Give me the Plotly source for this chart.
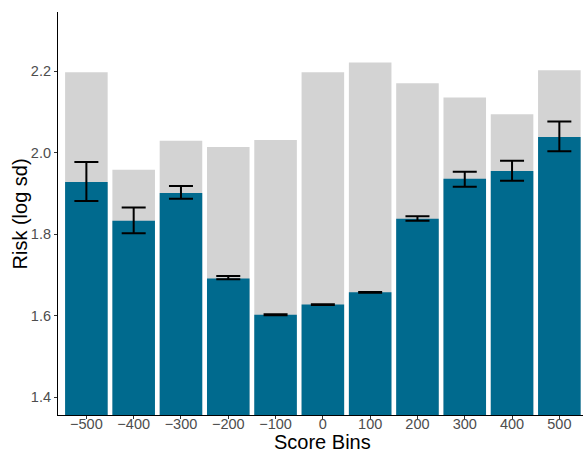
import plotly.graph_objects as go

# Score bins and risk summaries
bins = ["-500", "-400", "-300", "-200", "-100", "0", "100", "200", "300", "400", "500"]
bin_labels = ["\u2212500", "\u2212400", "\u2212300", "\u2212200", "\u2212100", "0", "100", "200", "300", "400", "500"]
upper_risk = [2.197, 1.958, 2.029, 2.014, 2.031, 2.197, 2.221, 2.170, 2.135, 2.094, 2.202]
mean_risk = [1.928, 1.833, 1.901, 1.691, 1.602, 1.627, 1.657, 1.8375, 1.936, 1.955, 2.038]
ci_high = [1.977, 1.865, 1.918, 1.697, 1.6035, 1.628, 1.658, 1.844, 1.953, 1.980, 2.076]
ci_low = [1.881, 1.802, 1.887, 1.689, 1.6005, 1.626, 1.656, 1.833, 1.916, 1.931, 2.003]

y_ticks = [1.4, 1.6, 1.8, 2.0, 2.2]

err_plus = [h - m for h, m in zip(ci_high, mean_risk)]
err_minus = [m - l for m, l in zip(mean_risk, ci_low)]

x_idx = list(range(len(bins)))

fig = go.Figure()
fig.add_trace(go.Bar(
    x=x_idx, y=upper_risk, width=0.9,
    marker=dict(color="#D3D3D3", line=dict(width=0)),
    showlegend=False, hoverinfo="skip",
))
fig.add_trace(go.Bar(
    x=x_idx, y=mean_risk, width=0.9,
    marker=dict(color="#006A8E", line=dict(width=0)),
    error_y=dict(type="data", symmetric=False, array=err_plus, arrayminus=err_minus,
                 color="black", thickness=2, width=12),
    showlegend=False,
))

title_font = dict(family="Liberation Sans, Arial, sans-serif", size=20, color="black")

fig.update_layout(
    width=583, height=451,
    margin=dict(l=58, r=0, t=12, b=36),
    barmode="overlay",
    plot_bgcolor="white", paper_bgcolor="white",
    font=dict(family="Liberation Sans, Arial, sans-serif"),
    annotations=[
        dict(text="Score Bins", xref="paper", yref="paper", x=0.503, y=-0.068,
             xanchor="center", yanchor="middle", showarrow=False, font=title_font),
        dict(text="Risk (log sd)", xref="paper", yref="paper", x=-0.0724, y=0.5,
             xanchor="center", yanchor="middle", textangle=-90, showarrow=False,
             font=title_font),
    ],
)
fig.update_xaxes(
    range=[-0.6, 10.5],
    tickmode="array", tickvals=x_idx, ticktext=bin_labels,
    showline=True, linecolor="black", linewidth=1.2,
    ticks="outside", ticklen=3, tickcolor="#333333",
    tickfont=dict(size=14.5, color="#4D4D4D"),
    ticklabelstandoff=-8,
    showgrid=False, zeroline=False,
)
fig.update_yaxes(
    range=[1.356, 2.345],
    tickmode="array", tickvals=y_ticks, ticktext=[f"{v:.1f}" for v in y_ticks],
    showline=True, linecolor="black", linewidth=1.2,
    ticks="outside", ticklen=3, tickcolor="#333333",
    tickfont=dict(size=14.5, color="#4D4D4D"),
    showgrid=False, zeroline=False,
)

fig.write_html("out.html")
